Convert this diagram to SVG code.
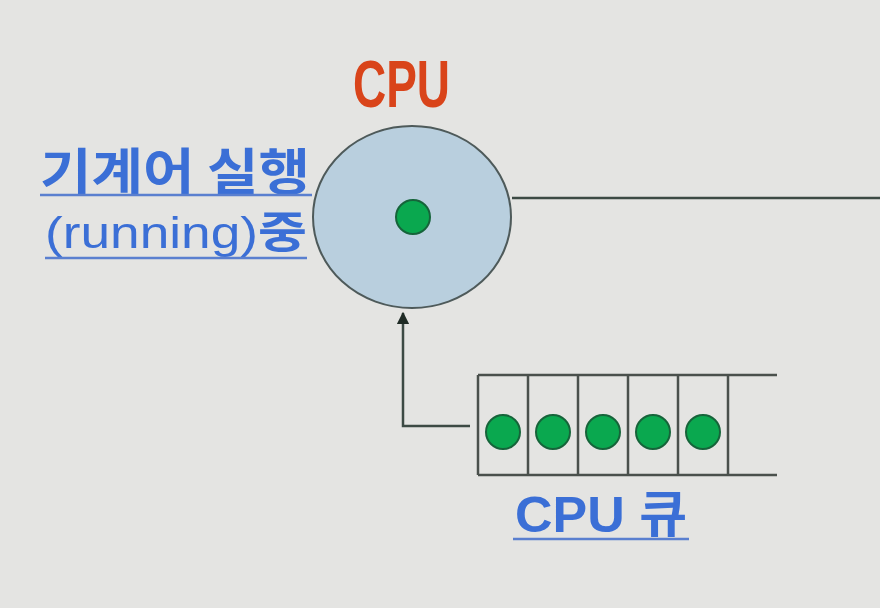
<svg xmlns="http://www.w3.org/2000/svg" width="880" height="608" viewBox="0 0 880 608">
<defs>
<style>
.lbl{font-family:"Liberation Sans","Noto Sans CJK KR",sans-serif;font-weight:bold;fill:#3b6fd6}
.kr{font-family:"Noto Sans CJK KR","Liberation Sans",sans-serif;font-weight:bold;fill:#3b6fd6}
.run{font-family:"Liberation Sans","Noto Sans CJK KR",sans-serif;font-weight:normal;fill:#3b6fd6}
.ul{stroke:#5a7fcf;stroke-width:2.5}
.line{stroke:#3c4a44;stroke-width:2.5;fill:none}
.dot{fill:#0aa84f;stroke:#16643a;stroke-width:2}
.cell{stroke:#4a504c;stroke-width:2.5;fill:none}
</style>
<marker id="arr" viewBox="0 0 10 10" refX="9" refY="5" markerWidth="5" markerHeight="5" orient="auto">
<path d="M0,0 L10,5 L0,10 z" fill="#1f2b25"/>
</marker>
</defs>
<rect width="880" height="608" fill="#e4e4e2"/>
<g id="connectors">
<line class="line" x1="512" y1="198" x2="880" y2="198"/>
<polyline class="line" points="470,426 403,426 403,313" marker-end="url(#arr)"/>
</g>
<g id="cpu">
<text x="353" y="107" font-family="Liberation Sans, sans-serif" font-weight="bold" font-size="66" fill="#d9441a" textLength="97" lengthAdjust="spacingAndGlyphs">CPU</text>
<ellipse cx="412" cy="217" rx="99" ry="91" fill="#b9cfde" stroke="#4e5a5a" stroke-width="2"/>
<circle class="dot" cx="413" cy="217" r="17"/>
</g>
<g id="running-label">
<text class="kr" x="40" y="190" font-size="50" textLength="270" lengthAdjust="spacingAndGlyphs">기계어 실행</text>
<line class="ul" x1="40" y1="195" x2="312" y2="195"/>
<text class="run" x="45" y="248" font-size="44" textLength="262" lengthAdjust="spacingAndGlyphs">(running)<tspan style="font-family:'Noto Sans CJK KR',sans-serif;font-weight:bold">중</tspan></text>
<line class="ul" x1="45" y1="258" x2="307" y2="258"/>
</g>
<g id="cpu-queue">
<line class="cell" x1="478" y1="375" x2="777" y2="375"/>
<line class="cell" x1="478" y1="475" x2="777" y2="475"/>
<line class="cell" x1="478" y1="375" x2="478" y2="475"/>
<line class="cell" x1="528" y1="375" x2="528" y2="475"/>
<line class="cell" x1="578" y1="375" x2="578" y2="475"/>
<line class="cell" x1="628" y1="375" x2="628" y2="475"/>
<line class="cell" x1="678" y1="375" x2="678" y2="475"/>
<line class="cell" x1="728" y1="375" x2="728" y2="475"/>
<circle class="dot" cx="503" cy="432" r="17"/>
<circle class="dot" cx="553" cy="432" r="17"/>
<circle class="dot" cx="603" cy="432" r="17"/>
<circle class="dot" cx="653" cy="432" r="17"/>
<circle class="dot" cx="703" cy="432" r="17"/>
<text class="lbl" x="515" y="532" font-size="50" textLength="172" lengthAdjust="spacingAndGlyphs">CPU 큐</text>
<line class="ul" x1="513" y1="539" x2="689" y2="539"/>
</g>
</svg>
